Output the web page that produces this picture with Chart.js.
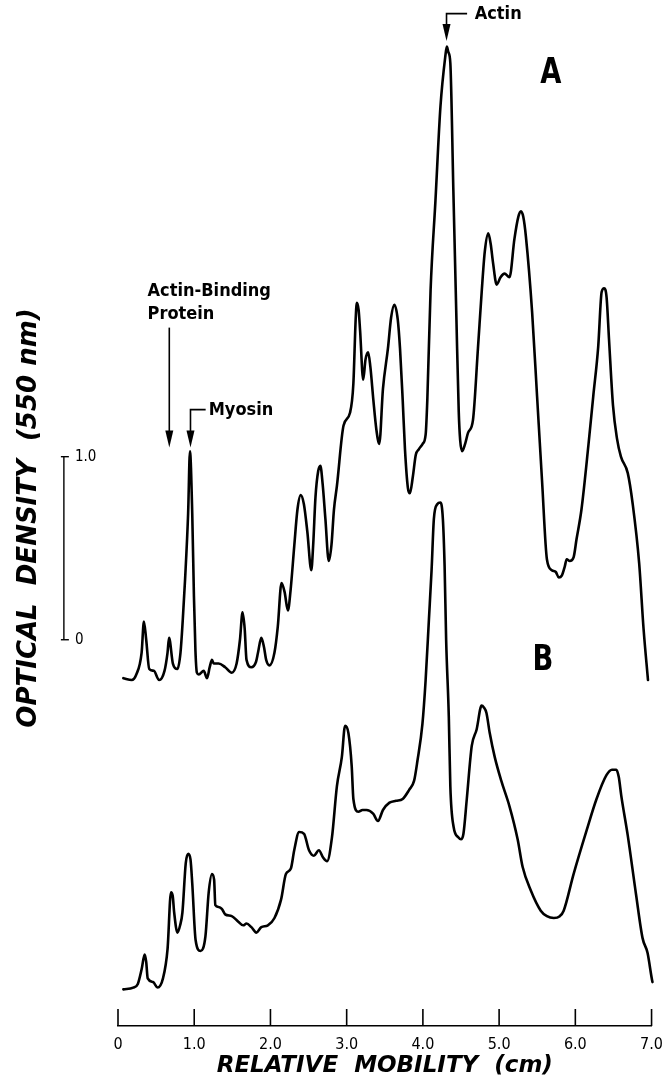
<!DOCTYPE html>
<html>
<head>
<meta charset="utf-8">
<script src="https://cdn.jsdelivr.net/npm/chart.js@4.4.1/dist/chart.umd.min.js"></script>
<style>
  html, body { margin: 0; padding: 0; background: #fff; }
  #wrap { width: 672px; height: 1078px; position: relative; }
</style>
</head>
<body>
<div id="wrap"><canvas id="c" width="672" height="1078"></canvas></div>
<script>
// ---- Data (relative mobility in cm, optical density as plotted; trace B drawn below trace A) ----
const mobilityA = [0.07,0.18,0.24,0.31,0.34,0.37,0.41,0.47,0.54,0.61,0.65,0.67,0.72,0.78,0.82,0.85,0.88,0.92,0.944,0.974,0.996,1.016,1.035,1.06,1.125,1.168,1.203,1.233,1.255,1.32,1.406,1.492,1.556,1.60,1.634,1.662,1.686,1.75,1.811,1.837,1.88,1.915,1.944,1.988,2.053,2.096,2.145,2.186,2.229,2.264,2.312,2.354,2.397,2.439,2.484,2.536,2.561,2.591,2.626,2.655,2.685,2.721,2.765,2.801,2.833,2.872,2.959,3.044,3.088,3.118,3.133,3.157,3.176,3.217,3.247,3.282,3.311,3.35,3.389,3.428,3.476,3.541,3.583,3.626,3.67,3.70,3.735,3.765,3.803,3.829,3.868,3.907,3.946,3.997,4.036,4.058,4.101,4.165,4.23,4.295,4.314,4.334,4.36,4.40,4.44,4.47,4.489,4.515,4.554,4.592,4.657,4.722,4.773,4.812,4.858,4.89,4.92,4.968,5.019,5.071,5.136,5.201,5.252,5.287,5.317,5.352,5.433,5.498,5.563,5.627,5.692,5.744,5.783,5.822,5.861,5.887,5.926,5.977,6.016,6.08,6.171,6.235,6.30,6.345,6.378,6.41,6.442,6.494,6.546,6.598,6.688,6.753,6.837,6.895,6.953];
const densityA  = [-0.21,-0.22,-0.19,-0.07,0.10,0.00,-0.16,-0.17,-0.22,-0.17,-0.07,0.01,-0.13,-0.16,-0.07,0.11,0.33,0.69,1.03,0.69,0.24,-0.06,-0.18,-0.19,-0.17,-0.21,-0.15,-0.11,-0.13,-0.13,-0.15,-0.18,-0.13,0.00,0.15,0.06,-0.11,-0.15,-0.12,-0.07,0.01,-0.04,-0.11,-0.14,-0.07,0.07,0.31,0.26,0.16,0.27,0.51,0.71,0.79,0.74,0.59,0.38,0.52,0.78,0.92,0.95,0.85,0.66,0.43,0.52,0.71,0.84,1.17,1.24,1.40,1.75,1.84,1.80,1.69,1.42,1.53,1.57,1.49,1.31,1.15,1.07,1.37,1.59,1.76,1.83,1.75,1.59,1.31,1.04,0.83,0.80,0.89,1.01,1.04,1.07,1.12,1.31,1.91,2.40,2.91,3.19,3.24,3.21,3.15,2.45,1.75,1.25,1.09,1.03,1.07,1.13,1.20,1.59,1.91,2.12,2.22,2.16,2.06,1.94,1.98,2.00,1.98,2.19,2.31,2.34,2.31,2.20,1.79,1.33,0.87,0.44,0.38,0.37,0.34,0.35,0.40,0.44,0.43,0.45,0.55,0.71,1.06,1.33,1.60,1.90,1.92,1.87,1.64,1.28,1.10,1.00,0.91,0.74,0.42,0.06,-0.22];

const mobilityB = [0.07,0.20,0.26,0.31,0.35,0.37,0.39,0.46,0.52,0.59,0.65,0.695,0.718,0.737,0.78,0.815,0.845,0.889,0.922,0.951,0.974,1.018,1.083,1.147,1.19,1.233,1.261,1.277,1.32,1.362,1.406,1.492,1.578,1.643,1.686,1.75,1.815,1.88,1.966,2.053,2.139,2.203,2.268,2.312,2.376,2.441,2.506,2.57,2.635,2.691,2.743,2.807,2.872,2.937,2.979,3.023,3.066,3.088,3.153,3.208,3.26,3.347,3.411,3.476,3.562,3.648,3.735,3.82,3.885,3.929,3.994,4.036,4.079,4.114,4.144,4.188,4.23,4.262,4.285,4.305,4.34,4.36,4.402,4.467,4.50,4.532,4.576,4.641,4.705,4.77,4.80,4.834,4.877,4.942,5.028,5.136,5.243,5.308,5.416,5.546,5.627,5.718,5.796,5.847,5.977,6.149,6.278,6.408,6.481,6.537,6.57,6.602,6.688,6.796,6.882,6.947,7.012,7.076];
const densityB  = [-1.91,-1.90,-1.88,-1.80,-1.72,-1.76,-1.85,-1.87,-1.90,-1.85,-1.69,-1.38,-1.40,-1.49,-1.60,-1.56,-1.49,-1.22,-1.17,-1.20,-1.33,-1.64,-1.70,-1.62,-1.38,-1.28,-1.31,-1.45,-1.46,-1.47,-1.50,-1.51,-1.54,-1.56,-1.55,-1.57,-1.60,-1.57,-1.56,-1.52,-1.42,-1.28,-1.25,-1.15,-1.05,-1.06,-1.15,-1.18,-1.15,-1.19,-1.21,-1.08,-0.80,-0.64,-0.47,-0.51,-0.69,-0.87,-0.94,-0.93,-0.93,-0.95,-0.99,-0.93,-0.89,-0.88,-0.87,-0.82,-0.77,-0.66,-0.46,-0.22,0.11,0.38,0.66,0.74,0.75,0.66,0.40,0.00,-0.42,-0.80,-1.02,-1.08,-1.09,-1.06,-0.87,-0.58,-0.49,-0.36,-0.37,-0.40,-0.51,-0.64,-0.77,-0.91,-1.09,-1.24,-1.37,-1.48,-1.51,-1.52,-1.51,-1.48,-1.28,-1.04,-0.87,-0.74,-0.71,-0.71,-0.75,-0.85,-1.07,-1.39,-1.63,-1.71,-1.87,-1.95];

const xTickValues = [0, 1, 2, 3, 4, 5, 6, 7];
const xTickLabels = ['0', '1.0', '2.0', '3.0', '4.0', '5.0', '6.0', '7.0'];
const odBarValues = [0, 1.0];
const odBarLabels = ['0', '1.0'];
const traceLabels = ['A', 'B'];
const xTitle = 'RELATIVE  MOBILITY  (cm)';
const yTitle = 'OPTICAL  DENSITY  (550 nm)';

// ---- Annotation anchors (in data units) ----
const odBarAt = -0.71;
const traceLabelPos = [[5.68, 3.10], [5.576, -0.11]];
const actinNote   = { text: 'Actin', x: 4.31, tip: 3.27, bar: 3.42, barEnd: 4.58, textX: 4.68 };
const myosinNote  = { text: 'Myosin', x: 0.951, tip: 1.05, bar: 1.257, barEnd: 1.15, textX: 1.19 };
const abpNote     = { lines: ['Actin-Binding', 'Protein'], x: 0.673, tip: 1.05, top: 1.705, textX: 0.388, lineY: [1.902, 1.776] };

const LABEL_FONT = 'bold 18px "DejaVu Sans Condensed", "DejaVu Sans", sans-serif';

function arrowHead(ctx, px, tipY) {
  ctx.beginPath();
  ctx.moveTo(px - 4, tipY - 17);
  ctx.lineTo(px + 4, tipY - 17);
  ctx.lineTo(px, tipY);
  ctx.closePath();
  ctx.fill();
}

const annotPlugin = {
  id: 'annot',
  afterDraw(chart) {
    const { ctx, chartArea: a, scales: { x, y } } = chart;
    const X = v => x.getPixelForValue(v);
    const Y = v => y.getPixelForValue(v);
    ctx.save();
    ctx.strokeStyle = '#000';
    ctx.fillStyle = '#000';
    ctx.lineCap = 'butt';

    // upward tick marks on the mobility axis
    ctx.lineWidth = 1.6;
    xTickValues.forEach(v => {
      const px = X(v);
      ctx.beginPath();
      ctx.moveTo(px, a.bottom);
      ctx.lineTo(px, a.bottom - 17);
      ctx.stroke();
    });

    // optical density scale bar
    const bx = X(odBarAt);
    ctx.lineWidth = 1.4;
    ctx.beginPath();
    ctx.moveTo(bx, Y(odBarValues[0]));
    ctx.lineTo(bx, Y(odBarValues[1]));
    ctx.stroke();
    ctx.font = '15px "DejaVu Sans Condensed", "DejaVu Sans", sans-serif';
    ctx.textAlign = 'left';
    ctx.textBaseline = 'middle';
    odBarValues.forEach((v, i) => {
      ctx.beginPath();
      ctx.moveTo(bx - 3, Y(v));
      ctx.lineTo(bx + 5, Y(v));
      ctx.stroke();
      ctx.fillText(odBarLabels[i], bx + 11, Y(v));
    });

    // Actin bracket arrow
    ctx.lineWidth = 1.6;
    ctx.font = LABEL_FONT;
    let px = X(actinNote.x);
    ctx.beginPath();
    ctx.moveTo(X(actinNote.barEnd), Y(actinNote.bar));
    ctx.lineTo(px, Y(actinNote.bar));
    ctx.lineTo(px, Y(actinNote.tip) - 10);
    ctx.stroke();
    arrowHead(ctx, px, Y(actinNote.tip));
    ctx.fillText(actinNote.text, X(actinNote.textX), Y(actinNote.bar) + 1);

    // Myosin bracket arrow
    px = X(myosinNote.x);
    ctx.beginPath();
    ctx.moveTo(X(myosinNote.barEnd), Y(myosinNote.bar));
    ctx.lineTo(px, Y(myosinNote.bar));
    ctx.lineTo(px, Y(myosinNote.tip) - 10);
    ctx.stroke();
    arrowHead(ctx, px, Y(myosinNote.tip));
    ctx.fillText(myosinNote.text, X(myosinNote.textX), Y(myosinNote.bar) + 1);

    // Actin-binding protein arrow
    px = X(abpNote.x);
    ctx.beginPath();
    ctx.moveTo(px, Y(abpNote.top));
    ctx.lineTo(px, Y(abpNote.tip) - 10);
    ctx.stroke();
    arrowHead(ctx, px, Y(abpNote.tip));
    abpNote.lines.forEach((t, i) => ctx.fillText(t, X(abpNote.textX), Y(abpNote.lineY[i])));

    // trace letters
    ctx.font = 'bold 36px "DejaVu Sans", sans-serif';
    ctx.textAlign = 'center';
    traceLabels.forEach((t, i) => {
      ctx.save();
      ctx.translate(X(traceLabelPos[i][0]), Y(traceLabelPos[i][1]));
      ctx.scale(0.76, 1);
      ctx.fillText(t, 0, 1);
      ctx.restore();
    });
    ctx.restore();
  }
};

const toPoints = (xs, ys) => xs.map((m, i) => ({ x: m, y: ys[i] }));

const lineStyle = {
  showLine: true,
  borderColor: '#000',
  backgroundColor: '#000',
  borderWidth: 2.6,
  pointRadius: 0,
  pointHoverRadius: 0,
  fill: false,
  clip: false,
  cubicInterpolationMode: 'monotone',
  borderJoinStyle: 'round',
  borderCapStyle: 'round'
};

new Chart(document.getElementById('c'), {
  type: 'scatter',
  data: {
    datasets: [
      Object.assign({ label: 'A', data: toPoints(mobilityA, densityA) }, lineStyle),
      Object.assign({ label: 'B', data: toPoints(mobilityB, densityB) }, lineStyle)
    ]
  },
  options: {
    responsive: false,
    devicePixelRatio: 1,
    animation: false,
    events: [],
    layout: { padding: { left: 0, right: 13, top: 10, bottom: 0 } },
    plugins: { legend: { display: false }, tooltip: { enabled: false } },
    scales: {
      x: {
        type: 'linear',
        min: 0,
        max: 7,
        grid: { display: false, drawTicks: false },
        border: { display: true, color: '#000', width: 1.6 },
        afterBuildTicks: s => { s.ticks = xTickValues.map(v => ({ value: v })); },
        afterFit: s => { s.height = 52; },
        ticks: {
          color: '#000',
          padding: 9,
          maxRotation: 0,
          autoSkip: false,
          font: { family: '"DejaVu Sans Condensed", "DejaVu Sans", sans-serif', size: 16 },
          callback: (v, i) => xTickLabels[i]
        },
        title: {
          display: true,
          text: xTitle,
          color: '#000',
          padding: { top: 0, bottom: 0 },
          font: { family: '"DejaVu Sans", sans-serif', size: 23, style: 'italic', weight: 'bold', lineHeight: 1 }
        }
      },
      y: {
        type: 'linear',
        min: -2.11,
        max: 3.44,
        grid: { display: false },
        border: { display: false },
        ticks: { display: false },
        afterFit: s => { s.width = 118; },
        title: {
          display: true,
          text: yTitle,
          color: '#000',
          padding: { top: 16, bottom: 0 },
          font: { family: '"DejaVu Sans", sans-serif', size: 26, style: 'italic', weight: 'bold', lineHeight: 1 }
        }
      }
    }
  },
  plugins: [annotPlugin]
});
</script>
</body>
</html>
